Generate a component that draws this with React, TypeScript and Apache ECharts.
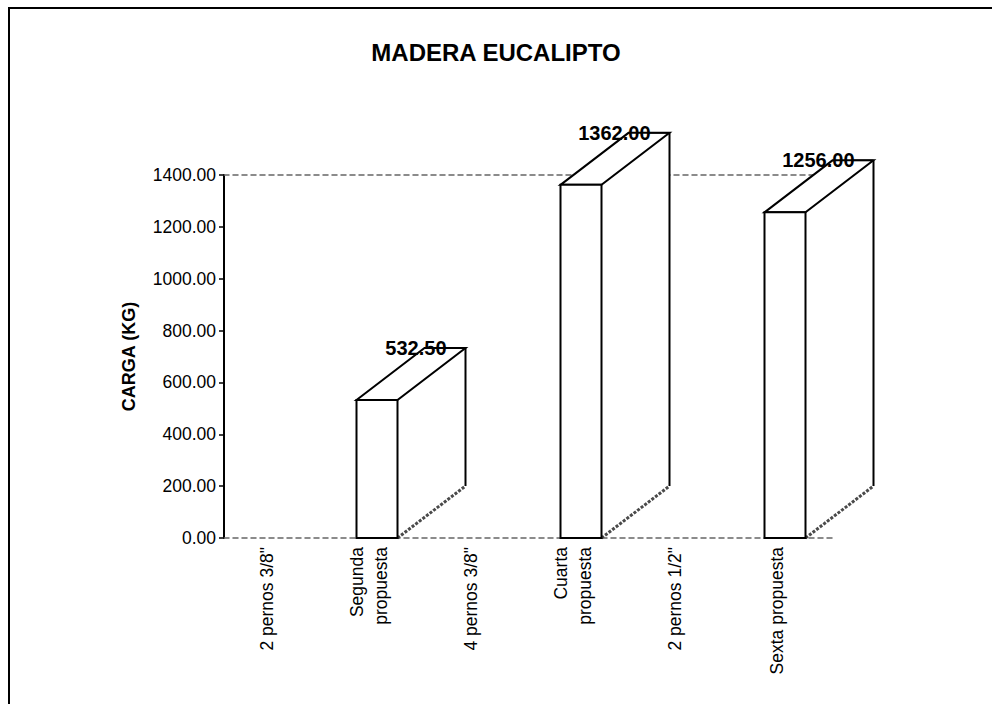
import React, { useEffect, useRef } from "react";
import * as echarts from "echarts";

// Load test data for eucalyptus wood joints (kg)
const categories = [
  '2 pernos 3/8"',
  "Segunda\npropuesta",
  '4 pernos 3/8"',
  "Cuarta\npropuesta",
  '2 pernos 1/2"',
  "Sexta propuesta",
];
const cargaKg: (number | null)[] = [null, 532.5, null, 1362.0, null, 1256.0];

const yTicksMin = 0;
const yTicksMax = 1400;
const yTickStep = 200;

const FONT = '"Liberation Sans", Arial, Helvetica, sans-serif';

// Oblique depth of the 3D boxes, in pixels
const DEPTH_X = 68;
const DEPTH_Y = -52;
const FRONT_WIDTH = 41;

function renderBox(params: any, api: any) {
  const v = api.value(1);
  if (v === null || v === undefined || isNaN(v)) return null;
  const idx = api.value(0);
  const base = api.coord([idx, 0]);
  const top = api.coord([idx, v]);
  const cx = base[0];
  const xl = cx - FRONT_WIDTH / 2;
  const xr = cx + FRONT_WIDTH / 2;
  const yb = base[1];
  const yt = top[1];
  const stroke = { stroke: "#000", lineWidth: 2, fill: "none" };
  const label = v.toFixed(2);
  return {
    type: "group",
    children: [
      // side face
      {
        type: "polygon",
        shape: {
          points: [
            [xr, yb],
            [xr + DEPTH_X, yb + DEPTH_Y],
            [xr + DEPTH_X, yt + DEPTH_Y],
            [xr, yt],
          ],
        },
        style: { fill: "#fff", stroke: "none" },
      },
      {
        type: "line",
        shape: { x1: xr, y1: yb, x2: xr + DEPTH_X, y2: yb + DEPTH_Y },
        style: { stroke: "#4a4a4a", lineWidth: 3, lineDash: [3, 1.5] },
      },
      {
        type: "polyline",
        shape: {
          points: [
            [xr + DEPTH_X, yb + DEPTH_Y],
            [xr + DEPTH_X, yt + DEPTH_Y],
          ],
        },
        style: stroke,
      },
      // top face
      {
        type: "polygon",
        shape: {
          points: [
            [xl, yt],
            [xl + DEPTH_X, yt + DEPTH_Y],
            [xr + DEPTH_X, yt + DEPTH_Y],
            [xr, yt],
          ],
        },
        style: { fill: "#fff", stroke: "#000", lineWidth: 2 },
      },
      // front face
      {
        type: "rect",
        shape: { x: xl, y: yt, width: FRONT_WIDTH, height: yb - yt },
        style: { fill: "#fff", stroke: "#000", lineWidth: 2 },
      },
      // value label with leader to the back corner
      {
        type: "line",
        shape: {
          x1: xr + DEPTH_X - 22,
          y1: yt + DEPTH_Y,
          x2: xr + DEPTH_X,
          y2: yt + DEPTH_Y,
        },
        style: { stroke: "#000", lineWidth: 1.5 },
      },
      {
        type: "text",
        x: xr + DEPTH_X - 19,
        y: yt + DEPTH_Y,
        style: {
          text: label,
          fill: "#000",
          font: `bold 20px ${FONT}`,
          align: "right",
          verticalAlign: "middle",
        },
      },
    ],
  };
}

export default function App() {
  const ref = useRef<HTMLDivElement>(null);

  useEffect(() => {
    if (!ref.current) return;
    const chart = echarts.init(ref.current, undefined, { renderer: "svg" });
    const dashed = { color: "#666", width: 1.5, type: [5, 4] };
    chart.setOption({
      animation: false,
      backgroundColor: "#fff",
      title: {
        text: "MADERA EUCALIPTO",
        left: "center",
        top: 35,
        textStyle: {
          fontFamily: FONT,
          fontSize: 24,
          fontWeight: "bold",
          color: "#000",
        },
      },
      grid: [
        { left: 224, right: 156, top: 175, bottom: 166 },
        // label band, set slightly left of the plot like the category captions
        { left: 216, right: 164, top: 175, bottom: 166 },
      ],
      xAxis: [
        {
          type: "category",
          gridIndex: 0,
          data: categories,
          position: "bottom",
          axisLine: { show: true, lineStyle: dashed },
          axisTick: { show: false },
          axisLabel: { show: false },
        },
        {
          type: "category",
          gridIndex: 0,
          data: categories,
          position: "top",
          axisLine: { show: true, lineStyle: dashed },
          axisTick: { show: false },
          axisLabel: { show: false },
        },
        {
          type: "category",
          gridIndex: 1,
          data: categories,
          position: "bottom",
          axisLine: { show: false },
          axisTick: { show: false },
          axisLabel: {
            interval: 0,
            rotate: 90,
            margin: 9,
            fontFamily: FONT,
            fontSize: 17.5,
            color: "#000",
            lineHeight: 24,
          },
        },
      ],
      yAxis: [
        {
          type: "value",
          gridIndex: 0,
          min: yTicksMin,
          max: yTicksMax,
          interval: yTickStep,
          name: "CARGA (KG)",
          nameLocation: "middle",
          nameRotate: 90,
          nameGap: 86,
          nameTextStyle: {
            fontFamily: FONT,
            fontSize: 18,
            fontWeight: "bold",
            color: "#000",
          },
          axisLine: { show: true, lineStyle: { color: "#000", width: 2 } },
          axisTick: {
            show: true,
            inside: false,
            length: 5,
            lineStyle: { color: "#000", width: 1.5 },
          },
          splitLine: { show: false },
          axisLabel: {
            margin: 8,
            fontFamily: FONT,
            fontSize: 17.5,
            color: "#000",
            formatter: (val: number) => val.toFixed(2),
          },
        },
        {
          type: "value",
          gridIndex: 1,
          min: yTicksMin,
          max: yTicksMax,
          interval: yTickStep,
          show: false,
        },
      ],
      series: [
        {
          type: "custom",
          xAxisIndex: 0,
          yAxisIndex: 0,
          clip: false,
          renderItem: renderBox,
          data: cargaKg.map((v, i) => [i, v]),
        },
      ],
      graphic: [
        {
          type: "line",
          shape: { x1: 8, y1: 8, x2: 992, y2: 8 },
          style: { stroke: "#000", lineWidth: 2 },
        },
        {
          type: "line",
          shape: { x1: 9, y1: 8, x2: 9, y2: 704 },
          style: { stroke: "#000", lineWidth: 2 },
        },
      ],
    });
    return () => chart.dispose();
  }, []);

  return (
    <div
      ref={ref}
      style={{ position: "absolute", left: 0, top: 0, width: 992, height: 704 }}
    />
  );
}
